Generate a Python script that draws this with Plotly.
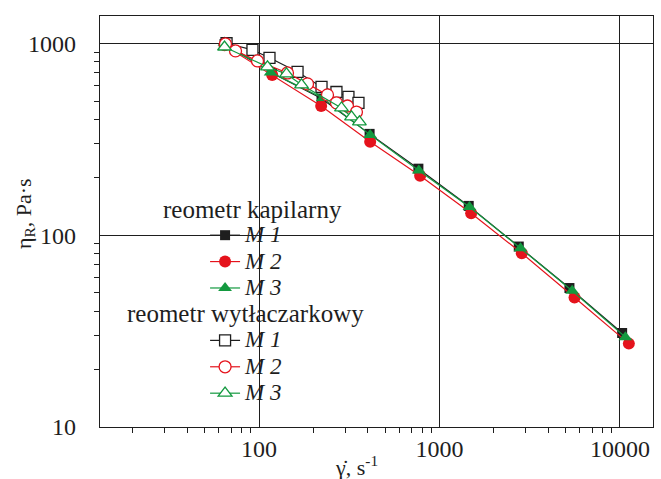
import plotly.graph_objects as go

# ---- data ----
# capillary rheometer (filled markers)
cap_m1_x = [64.4, 118, 222, 410, 764, 1452, 2750, 5248, 10280]
cap_m1_y = [990, 700, 515, 337, 222, 142, 87.2, 53.0, 30.9]
cap_m2_x = [64.4, 118.3, 221, 413, 781, 1498, 2858, 5600, 11200]
cap_m2_y = [975, 684, 471, 307, 204, 130, 80.5, 47.3, 27.2]
cap_m3_x = [64.4, 116, 225.6, 413, 768, 1466, 2812, 5433, 10720]
cap_m3_y = [1010, 705, 518, 333, 217, 140, 85.5, 51.3, 29.4]

# extruder rheometer (open markers)
ext_m1_x = [66.1, 92.0, 114.3, 163.5, 222, 268.6, 313, 355.7]
ext_m1_y = [1000, 923, 840, 709, 592, 557, 525, 489]
ext_m2_x = [65.2, 74.1, 98.1, 143.8, 185.7, 239.6, 268.6, 309, 346.6]
ext_m2_y = [992, 912, 809, 700, 614, 538, 489, 471, 438]
ext_m3_x = [64.4, 111.4, 142, 172, 286.4, 325.5, 360]
ext_m3_y = [956, 753, 692, 607, 460, 413, 389]

series_names = ["M 1", "M 2", "M 3"]
group_titles = ["reometr kapilarny", "reometr wytłaczarkowy"]

x_ticks = [100, 1000, 10000]
y_ticks = [10, 100, 1000]
x_minor = [20, 30, 40, 50, 60, 70, 80, 90, 200, 300, 400, 500, 600, 700, 800, 900,
           2000, 3000, 4000, 5000, 6000, 7000, 8000, 9000]
y_minor = [20, 30, 40, 50, 60, 70, 80, 90, 200, 300, 400, 500, 600, 700, 800, 900]

x_title = "γ̇, s<sup>-1</sup>"
y_title = "η<sub>R</sub>, Pa·s"

BLACK = "#1e1e1e"
RED = "#e5131c"
GREEN = "#13993f"
FONT = "Liberation Serif, Times New Roman, serif"

colors = [BLACK, RED, GREEN]
filled_symbols = ["square", "circle", "triangle-up"]
filled_sizes = [10, 12, 12]
open_sizes = [11, 12, 12]

cap_x = [cap_m1_x, cap_m2_x, cap_m3_x]
cap_y = [cap_m1_y, cap_m2_y, cap_m3_y]
ext_x = [ext_m1_x, ext_m2_x, ext_m3_x]
ext_y = [ext_m1_y, ext_m2_y, ext_m3_y]


def legend_label(name):
    return '<span style="font-size:23px"><i>' + name + '</i></span>'


fig = go.Figure()

for i in range(3):
    fig.add_trace(go.Scatter(
        x=cap_x[i], y=cap_y[i], mode="lines+markers",
        name=legend_label(series_names[i]), legendgroup="cap",
        line=dict(color=colors[i], width=1.2),
        marker=dict(symbol=filled_symbols[i], size=filled_sizes[i], color=colors[i],
                    line=dict(width=0)),
    ))

for i in range(3):
    fig.add_trace(go.Scatter(
        x=ext_x[i], y=ext_y[i], mode="lines+markers",
        name=legend_label(series_names[i]), legendgroup="ext",
        line=dict(color=colors[i], width=1.2),
        marker=dict(symbol=filled_symbols[i], size=open_sizes[i], color="white",
                    line=dict(width=1.3, color=colors[i])),
    ))

axis_common = dict(
    type="log", showgrid=True, gridcolor=BLACK, gridwidth=1,
    ticks="inside", ticklen=8, tickwidth=1, tickcolor=BLACK,
    showline=True, linecolor=BLACK, linewidth=1.3, mirror=True,
    zeroline=False,
    tickfont=dict(family=FONT, size=24, color=BLACK),
)

fig.update_layout(
    width=661, height=479,
    margin=dict(l=100, r=8, t=16, b=52),
    paper_bgcolor="white", plot_bgcolor="white",
    font=dict(family=FONT, color=BLACK),
    showlegend=True,
    legend=dict(x=0.19, xanchor="left", y=0.511, yanchor="top",
                bgcolor="rgba(0,0,0,0)", borderwidth=0,
                font=dict(family=FONT, size=18, color=BLACK),
                tracegroupgap=26, traceorder="grouped"),
    xaxis=dict(axis_common, range=[1.119, 4.183], tickvals=x_ticks,
               ticktext=[str(v) for v in x_ticks], ticklabelstandoff=0,
               minor=dict(ticks="outside", ticklen=5, tickcolor=BLACK,
                          tickvals=x_minor, showgrid=False)),
    yaxis=dict(axis_common, range=[1.0, 3.142], tickvals=y_ticks,
               ticktext=[str(v) for v in y_ticks], ticklabelstandoff=18,
               minor=dict(ticks="outside", ticklen=5, tickcolor=BLACK,
                          tickvals=y_minor, showgrid=False)),
    shapes=[dict(type="rect", xref="paper", yref="paper", x0=0, x1=0.463,
                 y0=0, y1=0.657, fillcolor="white", line=dict(width=0),
                 layer="between")],
    annotations=[
        dict(text=group_titles[0], xref="paper", yref="paper", x=0.275, y=0.528,
             showarrow=False, xanchor="center", yanchor="middle",
             font=dict(family=FONT, size=25, color=BLACK)),
        dict(text=group_titles[1], xref="paper", yref="paper", x=0.264, y=0.277,
             showarrow=False, xanchor="center", yanchor="middle",
             font=dict(family=FONT, size=25, color=BLACK)),
        dict(text=y_title, xref="paper", yref="paper", x=-0.136, y=0.52,
             showarrow=False, textangle=-90, xanchor="center", yanchor="middle",
             font=dict(family=FONT, size=22, color=BLACK)),
        dict(text=x_title, xref="paper", yref="paper", x=0.463, y=-0.095,
             showarrow=False, xanchor="center", yanchor="middle",
             font=dict(family=FONT, size=22, color=BLACK)),
    ],
)

fig.write_html("out.html")
